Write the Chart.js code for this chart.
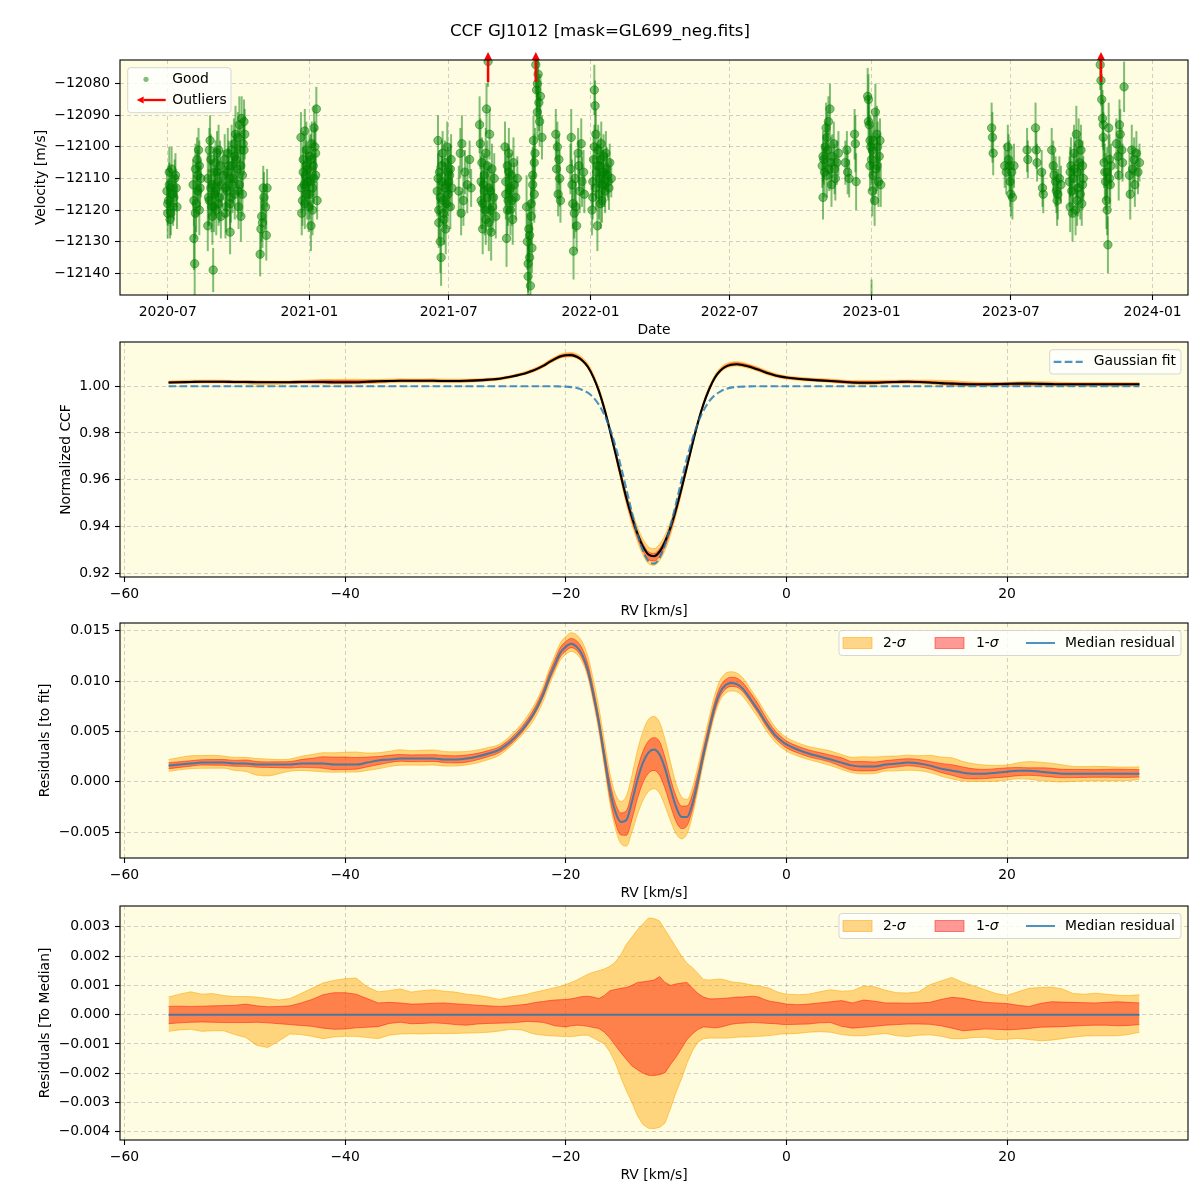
<!DOCTYPE html>
<html><head><meta charset="utf-8">
<script src="https://cdn.jsdelivr.net/npm/chart.js@4.4.1/dist/chart.umd.min.js"></script>
<style>
html,body{margin:0;padding:0;background:#fff;}
#wrap{position:relative;width:1200px;height:1200px;overflow:hidden;}
canvas{position:absolute;left:0;}
</style></head><body>
<div id="wrap">
<canvas id="c1" width="1200" height="340" style="top:0px;width:1200px;height:340px"></canvas>
<canvas id="c2" width="1200" height="280" style="top:340px;width:1200px;height:280px"></canvas>
<canvas id="c3" width="1200" height="282" style="top:620px;width:1200px;height:282px"></canvas>
<canvas id="c4" width="1200" height="298" style="top:902px;width:1200px;height:298px"></canvas>
</div>
<script>
// ================= DATA: panel 1 (RV time series) =================
const chartTitle = 'CCF GJ1012 [mask=GL699_neg.fits]';
const obsDates = [
 '2020-06-30','2020-07-01','2020-07-02','2020-07-03','2020-07-04','2020-07-05','2020-07-06','2020-07-08','2020-07-09','2020-07-10','2020-07-12','2020-07-13',
 '2020-08-03','2020-08-04','2020-08-05','2020-08-06','2020-08-07','2020-08-08','2020-08-09','2020-08-10','2020-08-11','2020-08-12','2020-08-13',
 '2020-08-22','2020-08-23','2020-08-24','2020-08-25','2020-08-26','2020-08-27','2020-08-28','2020-08-29','2020-08-30','2020-08-31','2020-09-01','2020-09-02','2020-09-03','2020-09-04','2020-09-05','2020-09-07','2020-09-08',
 '2020-09-13','2020-09-14','2020-09-15','2020-09-16','2020-09-17','2020-09-19','2020-09-20','2020-09-21','2020-09-22','2020-09-23','2020-09-25','2020-09-26','2020-09-27','2020-09-29','2020-09-30','2020-10-01','2020-10-02','2020-10-03','2020-10-04','2020-10-05','2020-10-06','2020-10-07','2020-10-08',
 '2020-10-29','2020-10-30','2020-10-31','2020-11-01','2020-11-02','2020-11-03','2020-11-05','2020-11-06','2020-11-07',
 '2020-12-21','2020-12-22','2020-12-23','2020-12-24','2020-12-25','2020-12-26','2020-12-27','2020-12-28','2020-12-29','2020-12-30','2020-12-31','2021-01-01','2021-01-02','2021-01-03','2021-01-04','2021-01-05','2021-01-06','2021-01-07','2021-01-08','2021-01-09','2021-01-10','2021-01-11',
 '2021-06-16','2021-06-17','2021-06-18','2021-06-19','2021-06-20','2021-06-21','2021-06-22','2021-06-23','2021-06-24','2021-06-25','2021-06-26','2021-06-27','2021-06-28','2021-06-29','2021-06-30','2021-07-02','2021-07-03','2021-07-04','2021-07-05',
 '2021-07-14','2021-07-16','2021-07-17','2021-07-18','2021-07-20','2021-07-22','2021-07-25','2021-07-28','2021-07-30',
 '2021-08-10','2021-08-11','2021-08-12','2021-08-13','2021-08-14','2021-08-15','2021-08-16','2021-08-17','2021-08-18','2021-08-19','2021-08-20','2021-08-21','2021-08-22','2021-08-23','2021-08-24','2021-08-25','2021-08-26','2021-08-27','2021-08-29','2021-08-31',
 '2021-09-12','2021-09-13','2021-09-14','2021-09-15','2021-09-16','2021-09-17','2021-09-18','2021-09-19','2021-09-20','2021-09-22','2021-09-24','2021-09-26','2021-09-28',
 '2021-10-10','2021-10-11','2021-10-12','2021-10-13','2021-10-14','2021-10-15','2021-10-16','2021-10-17','2021-10-18','2021-10-19','2021-10-20','2021-10-21','2021-10-22','2021-10-23','2021-10-24','2021-10-25','2021-10-26','2021-10-27','2021-10-28','2021-10-30',
 '2021-11-17','2021-11-18','2021-11-19','2021-11-20','2021-11-21','2021-11-22','2021-11-23',
 '2021-12-06','2021-12-07','2021-12-09','2021-12-10','2021-12-11','2021-12-12','2021-12-14','2021-12-16','2021-12-18','2021-12-20','2021-12-23','2021-12-24',
 '2022-01-03','2022-01-04','2022-01-05','2022-01-06','2022-01-07','2022-01-08','2022-01-09','2022-01-10','2022-01-11','2022-01-12','2022-01-13','2022-01-14','2022-01-15','2022-01-16','2022-01-17','2022-01-18','2022-01-20','2022-01-22','2022-01-24','2022-01-26','2022-01-28',
 '2022-10-29','2022-10-30','2022-10-31','2022-11-02','2022-11-03','2022-11-04','2022-11-05','2022-11-06','2022-11-07','2022-11-08','2022-11-10','2022-11-11','2022-11-13','2022-11-15','2022-11-17','2022-11-19',
 '2022-11-28','2022-11-30','2022-12-01','2022-12-03','2022-12-10','2022-12-11','2022-12-12',
 '2022-12-27','2022-12-28','2022-12-29','2022-12-30','2022-12-31','2023-01-01','2023-01-01','2023-01-02','2023-01-03','2023-01-05','2023-01-06','2023-01-07','2023-01-08','2023-01-09','2023-01-10','2023-01-11','2023-01-12','2023-01-13',
 '2023-06-06','2023-06-07','2023-06-08',
 '2023-06-23','2023-06-25','2023-06-27','2023-06-28','2023-06-29','2023-06-30','2023-07-01','2023-07-02','2023-07-03','2023-07-05',
 '2023-07-22','2023-07-23',
 '2023-08-02','2023-08-03','2023-08-04',
 '2023-08-10','2023-08-11','2023-08-12',
 '2023-08-23','2023-08-25','2023-08-26','2023-08-28','2023-08-29','2023-08-30','2023-08-31','2023-09-02','2023-09-04',
 '2023-09-15','2023-09-16','2023-09-17','2023-09-19','2023-09-20','2023-09-21','2023-09-23','2023-09-24','2023-09-25','2023-09-26','2023-09-27','2023-09-28','2023-09-29','2023-10-01','2023-10-02','2023-10-03',
 '2023-10-25','2023-10-26','2023-10-27','2023-10-28','2023-10-29','2023-10-30','2023-10-31','2023-11-01','2023-11-02','2023-11-03','2023-11-04','2023-11-05','2023-11-06','2023-11-07','2023-11-08',
 '2023-11-15','2023-11-17','2023-11-18','2023-11-19','2023-11-20','2023-11-22','2023-11-23','2023-11-25',
 '2023-12-02','2023-12-03','2023-12-05','2023-12-06','2023-12-08','2023-12-09','2023-12-11','2023-12-13','2023-12-15',
 // additional exposures in the dense seasons
 '2020-08-22','2020-08-24','2020-08-26','2020-08-28','2020-08-30','2020-09-01','2020-09-03','2020-09-05','2020-09-06','2020-09-09','2020-09-11','2020-09-14','2020-09-16','2020-09-18','2020-09-20','2020-09-22','2020-09-24','2020-09-26','2020-09-28','2020-09-30','2020-10-02','2020-10-04','2020-10-06','2020-10-08','2020-10-09',
 '2020-07-01','2020-07-03','2020-07-05','2020-07-07','2020-07-11',
 '2020-08-04','2020-08-06','2020-08-09','2020-08-11',
 '2020-12-22','2020-12-24','2020-12-26','2020-12-28','2020-12-30','2021-01-01','2021-01-03','2021-01-05','2021-01-07','2021-01-09',
 '2021-06-17','2021-06-18','2021-06-20','2021-06-22','2021-06-24','2021-06-26','2021-06-28','2021-06-30','2021-07-01','2021-07-03',
 '2021-08-12','2021-08-14','2021-08-16','2021-08-18','2021-08-20','2021-08-22','2021-08-24','2021-08-28',
 '2021-09-13','2021-09-15','2021-09-17','2021-09-19','2021-09-21','2021-09-23',
 '2021-10-12','2021-10-14','2021-10-16','2021-10-18','2021-10-20','2021-10-24',
 '2021-12-08','2021-12-13','2021-12-17','2021-12-21',
 '2022-01-04','2022-01-06','2022-01-08','2022-01-10','2022-01-12','2022-01-14','2022-01-16','2022-01-18','2022-01-19','2022-01-21','2022-01-23','2022-01-25',
 '2022-10-30','2022-11-01','2022-11-04','2022-11-09','2022-11-14',
 '2022-12-28','2022-12-30','2023-01-02','2023-01-04','2023-01-08',
 '2023-09-16','2023-09-18','2023-09-22','2023-09-25','2023-09-30','2023-10-02',
 '2023-10-29','2023-11-03','2023-11-06'
];
const obsRV = [
 -12114,-12121,-12117,-12108,-12123,-12113,-12107,-12119,-12116,-12110,-12113,-12119,
 -12112,-12129,-12137,-12121,-12118,-12104,-12109,-12101,-12106,-12113,-12110,
 -12125,-12116,-12101,-12098,-12113,-12119,-12122,-12139,-12108,-12115,-12105,-12120,-12102,-12111,-12118,-12106,-12122,
 -12104,-12113,-12119,-12108,-12102,-12110,-12127,-12116,-12106,-12112,-12099,-12103,-12096,-12107,-12114,-12119,-12093,-12101,-12122,-12091,-12109,-12099,-12092,
 -12134,-12126,-12122,-12124,-12113,-12116,-12119,-12128,-12113,
 -12097,-12121,-12117,-12104,-12112,-12095,-12109,-12101,-12115,-12107,-12119,-12103,-12111,-12125,-12099,-12113,-12106,-12094,-12100,-12109,-12088,-12117,
 -12114,-12098,-12120,-12108,-12130,-12135,-12111,-12102,-12117,-12123,-12105,-12126,-12112,-12100,-12115,-12109,-12119,-12104,-12113,
 -12114,-12102,-12121,-12099,-12117,-12108,-12112,-12104,-12113,
 -12093,-12099,-12117,-12105,-12126,-12112,-12109,-12120,-12102,-12088,-12116,-12073,-12124,-12096,-12114,-12127,-12107,-12119,-12110,-12122,
 -12100,-12111,-12129,-12106,-12117,-12102,-12114,-12120,-12109,-12123,-12112,-12116,-12110,
 -12119,-12130,-12141,-12126,-12135,-12144,-12122,-12132,-12109,-12098,-12115,-12102,-12074,-12082,-12089,-12077,-12086,-12092,-12084,-12097,
 -12096,-12107,-12100,-12115,-12104,-12110,-12117,
 -12107,-12097,-12118,-12133,-12121,-12110,-12125,-12102,-12114,-12099,-12108,-12115,
 -12120,-12111,-12104,-12082,-12087,-12096,-12108,-12125,-12101,-12115,-12106,-12118,-12099,-12112,-12109,-12103,-12114,-12107,-12111,-12105,-12110,
 -12106,-12116,-12104,-12100,-12094,-12109,-12101,-12092,-12107,-12088,-12112,-12103,-12099,-12110,-12105,-12102,
 -12105,-12101,-12108,-12110,-12096,-12099,-12111,
 -12084,-12085,-12093,-12098,-12100,-12153,-12104,-12114,-12109,-12117,-12089,-12107,-12096,-12100,-12111,-12103,-12098,-12112,
 -12094,-12097,-12102,
 -12106,-12108,-12100,-12104,-12106,-12111,-12115,-12108,-12116,-12106,
 -12101,-12104,
 -12094,-12101,-12105,
 -12108,-12113,-12115,
 -12101,-12106,-12109,-12111,-12114,-12117,-12115,-12110,-12112,
 -12111,-12119,-12106,-12121,-12110,-12102,-12120,-12096,-12108,-12113,-12099,-12105,-12115,-12118,-12112,-12110,
 -12074,-12079,-12085,-12091,-12093,-12105,-12108,-12111,-12117,-12120,-12131,-12094,-12104,-12112,-12106,
 -12099,-12103,-12109,-12093,-12096,-12101,-12105,-12081,
 -12109,-12115,-12101,-12107,-12104,-12112,-12102,-12108,-12105,
 // additional exposures
 -12110,-12117,-12104,-12112,-12119,-12114,-12108,-12101,-12116,-12112,-12109,-12121,-12114,-12106,-12118,-12101,-12110,-12115,-12104,-12097,-12112,-12106,-12115,-12101,-12096,
 -12118,-12112,-12121,-12115,-12109,
 -12117,-12107,-12114,-12120,
 -12113,-12108,-12118,-12106,-12111,-12115,-12104,-12120,-12110,-12102,
 -12110,-12124,-12116,-12106,-12121,-12113,-12118,-12108,-12111,-12107,
 -12111,-12118,-12114,-12123,-12106,-12113,-12120,-12116,
 -12115,-12120,-12108,-12113,-12117,-12105,
 -12137,-12128,-12118,-12112,-12105,-12080,
 -12112,-12119,-12106,-12111,
 -12116,-12100,-12113,-12106,-12110,-12104,-12117,-12108,-12112,-12102,-12109,-12113,
 -12103,-12108,-12097,-12105,-12107,
 -12092,-12106,-12101,-12098,-12106,
 -12108,-12114,-12107,-12117,-12101,-12106,
 -12097,-12108,-12110
];
const obsErr = [
 7,8,7,8,6,7,7,6,7,6,6,7,
 8,10,12,8,9,7,8,7,8,7,6,
 8,9,7,8,9,8,9,7,8,8,7,8,7,8,7,8,7,
 8,7,8,7,8,9,7,8,8,9,8,8,9,8,7,7,9,8,8,7,7,8,7,
 7,9,8,8,7,8,7,8,6,
 8,7,8,9,8,7,8,9,8,7,8,7,8,8,7,7,8,7,8,7,7,6,
 8,8,9,7,10,9,8,7,8,8,7,8,7,8,7,8,7,8,7,
 8,8,7,9,8,7,9,6,6,
 9,8,9,8,8,9,7,8,8,8,9,8,9,8,8,9,8,8,8,7,
 8,8,9,7,8,8,7,8,7,8,7,7,7,
 10,9,10,9,8,7,9,8,9,8,9,8,9,9,8,8,9,8,7,7,
 8,9,8,7,8,9,7,
 8,9,8,9,8,7,8,8,7,8,7,6,
 8,8,9,8,8,8,9,8,8,8,7,8,7,7,8,7,7,7,6,6,6,
 7,7,8,8,8,7,8,8,7,8,7,7,7,7,7,7,
 7,6,7,6,8,9,9,
 9,8,9,8,7,11,8,8,9,8,9,8,9,8,8,7,7,7,
 8,8,7,
 7,7,7,8,8,8,7,8,7,7,
 7,6,
 8,6,6,
 7,6,6,
 7,8,7,8,7,8,8,7,6,
 8,8,9,9,8,9,8,9,8,9,8,8,8,7,8,7,
 8,8,8,9,8,8,9,9,9,8,9,8,8,7,7,
 8,7,8,8,8,7,6,8,
 7,8,8,7,7,7,7,7,6,
 // additional exposures
 8,8,8,8,8,8,8,8,8,7,8,8,8,8,8,8,8,8,8,8,8,8,7,8,8,
 7,7,7,7,7,
 8,8,8,8,
 8,8,8,8,8,8,8,8,8,8,
 8,8,8,8,8,8,8,8,8,8,
 8,8,8,8,8,8,8,8,
 8,8,8,8,8,8,
 9,9,9,9,9,9,
 8,8,8,8,
 7,7,7,7,7,7,7,7,7,7,7,7,
 8,8,8,8,8,
 8,8,8,8,8,
 8,8,8,8,8,8,
 8,8,8
];
const outlierDates = ['2021-08-21', '2021-10-22', '2023-10-26'];
const dateTickDates = ['2020-07-01','2021-01-01','2021-07-01','2022-01-01','2022-07-01','2023-01-01','2023-07-01','2024-01-01'];
const dateTickLabels = ['2020-07','2021-01','2021-07','2022-01','2022-07','2023-01','2023-07','2024-01'];
const velTicks = [-12140, -12130, -12120, -12110, -12100, -12090, -12080];

// ================= DATA: panels 2-4 (CCF) =================
const rvGrid = [
 -56,-55,-54,-53,-52,-51,-50,-49,-48,-47,-46,-45,-44,-43,-42,-41,-40,-39,-38,-37,-36,-35,-34,-33,-32,-31,-30,-29,-28,-27,-26,-25,
 -24,-23.5,-23,-22.5,-22,-21.5,-21,-20.5,-20,-19.5,-19,-18.5,-18,-17.5,-17,-16.5,-16,-15.5,-15,-14.5,-14,-13.5,-13,-12.5,-12,-11.5,-11,-10.5,-10,-9.5,-9,-8.5,-8,-7.5,-7,-6.5,-6,-5.5,-5,-4.5,-4,-3.5,-3,-2.5,-2,-1.5,-1,-0.5,0,
 1,2,3,4,5,6,7,8,9,10,11,12,13,14,15,16,17,18,19,20,21,22,23,24,25,26,27,28,29,30,31,32
];
const gaussFit = [
 1,1,1,1,1,1,1,1, 1,1,1,1,1,1,1,1, 1,1,1,1,1,1,1,1, 1,1,1,1,1,1,1,1,
 1.0000,1.0000,1.0000,1.0000,1.0000,1.0000,1.0000,0.9999,0.9998,0.9996,
 0.9992,0.9984,0.9972,0.9952,0.9921,0.9878,0.9820,0.9745,0.9657,0.9559,
 0.9460,0.9368,0.9296,0.9251,0.9241,0.9265,0.9322,0.9403,0.9499,0.9599,
 0.9694,0.9777,0.9845,0.9897,0.9935,0.9961,0.9977,0.9988,0.9994,0.9997,
 0.9998,0.9999,1.0000,1.0000,1.0000,1.0000,1.0000,1.0000,1.0000,
 1,1,1,1,1,1,1,1, 1,1,1,1,1,1,1,1, 1,1,1,1,1,1,1,1, 1,1,1,1,1,1,1,1
];
const medianResid = [
 0.0016,0.0017,0.0018,0.0019,0.0019,0.0019,0.0018,0.0018,0.0017,0.0017,
 0.0017,0.0017,0.0018,0.0018,0.0018,0.0017,0.0017,0.0017,0.0019,0.0021,
 0.0022,0.0023,0.0023,0.0023,0.0023,0.0022,0.0022,0.0023,0.0025,0.0028,
 0.0032,0.0040,
 0.0051,0.0058,0.0066,0.0076,0.0088,0.0103,0.0116,0.0128,0.0134,0.0137,
 0.0134,0.0126,0.0111,0.0087,0.0059,0.0025,-0.0008,-0.0030,-0.0040,-0.0038,
 -0.0020,0.0002,0.0019,0.0029,0.0032,0.0027,0.0013,-0.0007,-0.0025,-0.0035,
 -0.0035,-0.0021,0.0002,0.0028,0.0052,0.0074,0.0089,0.0096,0.0098,0.0097,
 0.0093,0.0086,0.0078,0.0070,0.0061,0.0053,0.0046,0.0041,0.0037,
 0.0032,0.0028,0.0025,0.0022,0.0019,0.0016,0.0015,0.0015,0.0017,0.0018,
 0.0019,0.0018,0.0016,0.0013,0.0011,0.0009,0.0008,0.0008,0.0009,0.0010,
 0.0011,0.0011,0.0010,0.0009,0.0008,0.0008,0.0008,0.0008,0.0008,0.0008,
 0.0008,0.0008
];
// band edges, as offsets from the median residual
const sig2Upper = [
 0.00060,0.00070,0.00078,0.00070,0.00072,0.00065,0.00062,0.00062,0.00060,0.00055,
 0.00050,0.00055,0.00072,0.00090,0.00108,0.00117,0.00123,0.00125,0.00095,0.00078,
 0.00082,0.00088,0.00077,0.00082,0.00085,0.00080,0.00077,0.00070,0.00066,0.00060,
 0.00052,0.00060,
 0.00066,0.00070,0.00075,0.00079,0.00083,0.00088,0.00092,0.00097,0.00103,0.00110,
 0.00118,0.00128,0.00138,0.00145,0.00150,0.00156,0.00165,0.00180,0.00205,0.00240,
 0.00265,0.00290,0.00310,0.00330,0.00328,0.00320,0.00290,0.00260,0.00230,0.00200,
 0.00175,0.00160,0.00140,0.00120,0.00118,0.00120,0.00122,0.00118,0.00112,0.00110,
 0.00108,0.00104,0.00100,0.00098,0.00094,0.00090,0.00080,0.00074,0.00070,
 0.00068,0.00070,0.00078,0.00085,0.00080,0.00082,0.00098,0.00095,0.00083,0.00075,
 0.00074,0.00078,0.00102,0.00115,0.00127,0.00110,0.00098,0.00085,0.00072,0.00066,
 0.00078,0.00090,0.00093,0.00094,0.00088,0.00072,0.00070,0.00073,0.00070,0.00066,
 0.00065,0.00068
];
const sig1Upper = [
 0.00028,0.00029,0.00028,0.00029,0.00030,0.00031,0.00032,0.00036,0.00030,0.00027,
 0.00028,0.00030,0.00040,0.00052,0.00068,0.00075,0.00075,0.00070,0.00055,0.00040,
 0.00042,0.00040,0.00036,0.00037,0.00039,0.00040,0.00037,0.00035,0.00032,0.00030,
 0.00028,0.00030,
 0.00034,0.00036,0.00040,0.00043,0.00045,0.00048,0.00050,0.00051,0.00052,0.00054,
 0.00058,0.00062,0.00063,0.00060,0.00055,0.00065,0.00082,0.00086,0.00090,0.00093,
 0.00100,0.00110,0.00112,0.00115,0.00118,0.00130,0.00110,0.00100,0.00105,0.00108,
 0.00110,0.00090,0.00072,0.00060,0.00054,0.00054,0.00055,0.00056,0.00058,0.00060,
 0.00060,0.00062,0.00063,0.00060,0.00052,0.00046,0.00043,0.00040,0.00036,
 0.00034,0.00036,0.00040,0.00044,0.00048,0.00040,0.00050,0.00046,0.00040,0.00040,
 0.00039,0.00040,0.00042,0.00052,0.00059,0.00056,0.00048,0.00042,0.00040,0.00038,
 0.00032,0.00028,0.00038,0.00044,0.00043,0.00042,0.00041,0.00040,0.00042,0.00044,
 0.00042,0.00040
];
const sig1Lower = [
 -0.00031,-0.00028,-0.00026,-0.00025,-0.00026,-0.00027,-0.00027,-0.00027,-0.00026,-0.00028,
 -0.00031,-0.00034,-0.00037,-0.00040,-0.00046,-0.00050,-0.00049,-0.00045,-0.00043,-0.00041,
 -0.00030,-0.00026,-0.00031,-0.00030,-0.00028,-0.00030,-0.00034,-0.00036,-0.00032,-0.00030,
 -0.00029,-0.00028,
 -0.00025,-0.00023,-0.00024,-0.00025,-0.00027,-0.00032,-0.00038,-0.00040,-0.00042,-0.00038,
 -0.00036,-0.00037,-0.00040,-0.00044,-0.00047,-0.00060,-0.00080,-0.00105,-0.00130,-0.00153,
 -0.00175,-0.00188,-0.00200,-0.00207,-0.00208,-0.00205,-0.00198,-0.00170,-0.00145,-0.00115,
 -0.00085,-0.00065,-0.00050,-0.00042,-0.00043,-0.00045,-0.00043,-0.00038,-0.00033,-0.00030,
 -0.00029,-0.00028,-0.00027,-0.00028,-0.00029,-0.00030,-0.00031,-0.00033,-0.00034,
 -0.00033,-0.00032,-0.00028,-0.00027,-0.00040,-0.00046,-0.00043,-0.00040,-0.00036,-0.00034,
 -0.00032,-0.00032,-0.00033,-0.00038,-0.00046,-0.00055,-0.00052,-0.00049,-0.00050,-0.00052,
 -0.00050,-0.00047,-0.00043,-0.00042,-0.00041,-0.00039,-0.00037,-0.00036,-0.00036,-0.00038,
 -0.00037,-0.00034
];
const sig2Lower = [
 -0.00057,-0.00052,-0.00050,-0.00057,-0.00055,-0.00055,-0.00068,-0.00078,-0.00105,-0.00112,
 -0.00090,-0.00066,-0.00068,-0.00074,-0.00082,-0.00076,-0.00074,-0.00074,-0.00078,-0.00082,
 -0.00070,-0.00066,-0.00065,-0.00066,-0.00064,-0.00065,-0.00064,-0.00063,-0.00062,-0.00060,
 -0.00056,-0.00050,
 -0.00052,-0.00058,-0.00065,-0.00068,-0.00070,-0.00072,-0.00073,-0.00074,-0.00075,-0.00075,
 -0.00073,-0.00070,-0.00070,-0.00080,-0.00090,-0.00100,-0.00127,-0.00165,-0.00215,-0.00260,
 -0.00300,-0.00345,-0.00375,-0.00388,-0.00389,-0.00385,-0.00370,-0.00320,-0.00265,-0.00218,
 -0.00165,-0.00122,-0.00093,-0.00082,-0.00080,-0.00080,-0.00080,-0.00080,-0.00079,-0.00077,
 -0.00076,-0.00076,-0.00075,-0.00074,-0.00073,-0.00071,-0.00069,-0.00066,-0.00066,
 -0.00064,-0.00060,-0.00058,-0.00060,-0.00068,-0.00072,-0.00072,-0.00068,-0.00064,-0.00072,
 -0.00075,-0.00070,-0.00069,-0.00074,-0.00082,-0.00082,-0.00078,-0.00077,-0.00085,-0.00084,
 -0.00081,-0.00085,-0.00089,-0.00087,-0.00082,-0.00077,-0.00073,-0.00072,-0.00072,-0.00072,
 -0.00068,-0.00060
];
const rvTicks = [-60, -40, -20, 0, 20];
const ccfTicks = [0.92, 0.94, 0.96, 0.98, 1.00];
const residTicks = [-0.005, 0.000, 0.005, 0.010, 0.015];
const medTicks = [-0.004, -0.003, -0.002, -0.001, 0.000, 0.001, 0.002, 0.003];

// ================= STYLE =================
const FONT = "'DejaVu Sans', 'Liberation Sans', sans-serif";
const FS = 13.9;
const GRID_COLOR = 'rgba(176,176,176,0.6)';
const DASH = [4, 3];
const PLOT_BG = '#fefde2';
const C2 = 'rgba(255,165,0,0.45)', C2E = 'rgba(255,165,0,0.55)';
const C1 = 'rgba(255,0,0,0.4)', C1E = 'rgba(255,0,0,0.45)';
const BLUE = 'rgba(31,119,180,0.8)';
const GREEN = 'rgba(0,128,0,0.5)';

const toDay = s => Date.parse(s) / 864e5;
const minus = s => String(s).replace('-', '\u2212');
[obsRV, obsErr].forEach(a => { if (a.length !== obsDates.length) console.error('length mismatch', a.length, obsDates.length); });
[gaussFit, medianResid, sig2Upper, sig1Upper, sig1Lower, sig2Lower].forEach(a => { if (a.length !== rvGrid.length) console.error('rv length mismatch', a.length, rvGrid.length); });

function scaleBase(min, max, ticks, fmt, pad) {
  return {
    type: 'linear', min, max,
    afterBuildTicks: s => { s.ticks = ticks.map(v => ({ value: v })); },
    ticks: { callback: fmt, autoSkip: false, maxRotation: 0, minRotation: 0, padding: pad, color: '#000', font: { family: FONT, size: FS } },
    grid: { color: GRID_COLOR, lineWidth: 1, drawTicks: true, tickLength: 5, tickColor: '#000', tickWidth: 1.1, tickBorderDash: [], borderDash: DASH },
    border: { display: false, dash: DASH }
  };
}
function xAxis(min, max, ticks, fmt, title, h, titleOff) {
  const s = scaleBase(min, max, ticks, fmt, 4);
  s.position = 'bottom';
  s.afterFit = sc => { sc.height = h; sc.paddingLeft = 0; sc.paddingRight = 0; };
  s.title = { display: true, text: title, color: '#000', font: { family: FONT, size: FS }, padding: { top: 0, bottom: titleOff - FS * 0.6 } };
  return s;
}
function yAxis(min, max, ticks, fmt, title, titleX) {
  const s = scaleBase(min, max, ticks, fmt, 4.9);
  s.position = 'left';
  s.afterFit = sc => { sc.width = 120; sc.paddingTop = 0; sc.paddingBottom = 0; };
  s.title = { display: true, text: title, color: '#000', font: { family: FONT, size: FS }, padding: { top: titleX - FS * 0.6, bottom: 0 } };
  return s;
}
function baseOptions(padTop, x, y) {
  return {
    responsive: false, animation: false, devicePixelRatio: 1, events: [],
    layout: { padding: { top: padTop, left: 0, right: 12, bottom: 0 } },
    scales: { x, y },
    plugins: { legend: { display: false }, tooltip: { enabled: false }, title: { display: false } }
  };
}

// ================= PLUGINS =================
const bgPlugin = { id: 'plotbg', beforeDraw(chart) { const { ctx, chartArea: a } = chart; ctx.save(); ctx.fillStyle = PLOT_BG; ctx.fillRect(a.left, a.top, a.width, a.height); ctx.restore(); } };
const framePlugin = { id: 'frame', afterDraw(chart) { const { ctx, chartArea: a } = chart; ctx.save(); ctx.strokeStyle = '#000'; ctx.lineWidth = 1.1; ctx.strokeRect(a.left, a.top, a.width, a.height); ctx.restore(); } };

function legendFrame(ctx, x, y, w, h) {
  const r = 3;
  ctx.save();
  ctx.beginPath();
  ctx.moveTo(x + r, y); ctx.arcTo(x + w, y, x + w, y + h, r); ctx.arcTo(x + w, y + h, x, y + h, r);
  ctx.arcTo(x, y + h, x, y, r); ctx.arcTo(x, y, x + w, y, r); ctx.closePath();
  ctx.fillStyle = 'rgba(255,255,255,0.8)'; ctx.fill();
  ctx.strokeStyle = 'rgba(204,204,204,0.8)'; ctx.lineWidth = 1; ctx.stroke();
  ctx.restore();
}
function text(ctx, s, x, y, italic, size, align) {
  ctx.save(); ctx.fillStyle = '#000'; ctx.font = (italic ? 'italic ' : '') + (size || FS) + 'px ' + FONT;
  ctx.textBaseline = 'middle'; ctx.textAlign = align || 'left'; ctx.fillText(s, x, y);
  const w = ctx.measureText(s).width; ctx.restore(); return w;
}
function sigmaLabel(ctx, n, x, y) { const w = text(ctx, n + '-', x, y, false); text(ctx, '\u03c3', x + w, y, true); }
function drawArrow(ctx, x0, y0, x1, y1, shaftW, headL, headW, color) {
  const dx = x1 - x0, dy = y1 - y0, len = Math.hypot(dx, dy), ux = dx / len, uy = dy / len;
  const bx = x1 - ux * headL, by = y1 - uy * headL;
  ctx.save(); ctx.strokeStyle = color; ctx.fillStyle = color; ctx.lineWidth = shaftW;
  ctx.beginPath(); ctx.moveTo(x0, y0); ctx.lineTo(bx, by); ctx.stroke();
  ctx.beginPath(); ctx.moveTo(x1, y1); ctx.lineTo(bx - uy * headW / 2, by + ux * headW / 2); ctx.lineTo(bx + uy * headW / 2, by - ux * headW / 2); ctx.closePath(); ctx.fill();
  ctx.restore();
}
function bandLegend(ctx, a) {
  const w = 342, h = 25, bx = a.right - 7 - w, by = a.top + 7.5, cy = by + h / 2;
  legendFrame(ctx, bx, by, w, h);
  ctx.save();
  ctx.fillStyle = C2; ctx.strokeStyle = C2E; ctx.lineWidth = 1;
  ctx.fillRect(bx + 4, cy - 5.5, 29, 11); ctx.strokeRect(bx + 4, cy - 5.5, 29, 11);
  ctx.fillStyle = C1; ctx.strokeStyle = C1E;
  ctx.fillRect(bx + 96, cy - 5.5, 29, 11); ctx.strokeRect(bx + 96, cy - 5.5, 29, 11);
  ctx.strokeStyle = BLUE; ctx.lineWidth = 2; ctx.beginPath(); ctx.moveTo(bx + 187, cy); ctx.lineTo(bx + 216, cy); ctx.stroke();
  ctx.restore();
  sigmaLabel(ctx, '2', bx + 44, cy);
  sigmaLabel(ctx, '1', bx + 137, cy);
  text(ctx, 'Median residual', bx + 226, cy);
}

// ================= PANEL 1 =================
const obsX = obsDates.map(toDay);
const errPlugin = {
  id: 'errbars',
  beforeDatasetsDraw(chart) {
    const { ctx, chartArea: a, scales: { x, y } } = chart;
    ctx.save(); ctx.beginPath(); ctx.rect(a.left, a.top, a.width, a.height); ctx.clip();
    ctx.strokeStyle = GREEN; ctx.lineWidth = 2;
    obsRV.forEach((v, i) => {
      const px = x.getPixelForValue(obsX[i]);
      ctx.beginPath(); ctx.moveTo(px, y.getPixelForValue(v - obsErr[i])); ctx.lineTo(px, y.getPixelForValue(v + obsErr[i])); ctx.stroke();
    });
    ctx.restore();
  }
};
const outlierPlugin = {
  id: 'outliers',
  afterDraw(chart) {
    const { ctx, chartArea: a, scales: { x } } = chart;
    text(ctx, chartTitle, chart.width / 2, 32, false, 16.67, 'center');
    outlierDates.forEach(d => { const px = x.getPixelForValue(toDay(d)); drawArrow(ctx, px, a.top + 22, px, a.top - 8, 2.5, 8, 8, '#ff0000'); });
    const bx = a.left + 7.7, by = a.top + 7.7;
    legendFrame(ctx, bx, by, 103.3, 45);
    ctx.save(); ctx.fillStyle = GREEN; ctx.beginPath(); ctx.arc(bx + 18.3, by + 11.6, 2.6, 0, Math.PI * 2); ctx.fill(); ctx.restore();
    text(ctx, 'Good', bx + 44.6, by + 11.6);
    drawArrow(ctx, bx + 38, by + 32.3, bx + 9, by + 32.3, 2.3, 7, 7, '#ff0000');
    text(ctx, 'Outliers', bx + 44.6, by + 32.3);
  }
};
const opt1 = baseOptions(60,
  xAxis(toDay('2020-04-30'), toDay('2024-02-16'), dateTickDates.map(toDay), (v, i) => dateTickLabels[i], 'Date', 45, 10),
  yAxis(-12146.9, -12072.5, velTicks, v => minus(v), 'Velocity [m/s]', 41));
new Chart(document.getElementById('c1'), {
  type: 'scatter',
  data: { datasets: [{ label: 'Good', data: obsX.map((x, i) => ({ x, y: obsRV[i] })), pointRadius: 4.2, pointBackgroundColor: GREEN, pointBorderColor: GREEN, pointBorderWidth: 1, showLine: false, clip: 0 }] },
  options: opt1,
  plugins: [bgPlugin, errPlugin, outlierPlugin, framePlugin]
});

// ================= PANELS 2-4 =================
const pts = ys => rvGrid.map((x, i) => ({ x, y: ys[i] }));
const add = (a, b) => a.map((v, i) => v + b[i]);
function bandSets(base, smooth) {
  const common = { pointRadius: 0, borderWidth: 1, tension: 0 };
  if (smooth) common.cubicInterpolationMode = 'monotone';
  return [
    Object.assign({ label: '2-sigma low', data: pts(add(base, sig2Lower)), borderColor: C2E, fill: false, order: 10 }, common),
    Object.assign({ label: '2-σ', data: pts(add(base, sig2Upper)), borderColor: C2E, backgroundColor: C2, fill: '-1', order: 10 }, common),
    Object.assign({ label: '1-sigma low', data: pts(add(base, sig1Lower)), borderColor: C1E, fill: false, order: 9 }, common),
    Object.assign({ label: '1-σ', data: pts(add(base, sig1Upper)), borderColor: C1E, backgroundColor: C1, fill: '-1', order: 9 }, common)
  ];
}
const rvX = (title, h, off) => xAxis(-60.4, 36.4, rvTicks, v => minus(v), title, h, off);

// Panel 2: normalized CCF
const ccfMean = add(gaussFit, medianResid);
const ds2 = bandSets(ccfMean, true).concat([
  { label: 'Mean CCF', data: pts(ccfMean), borderColor: '#000', borderWidth: 2.1, pointRadius: 0, fill: false, cubicInterpolationMode: 'monotone', order: 2 },
  { label: 'Gaussian fit', data: pts(gaussFit), borderColor: BLUE, borderWidth: 2.1, borderDash: [7.7, 3.3], pointRadius: 0, fill: false, cubicInterpolationMode: 'monotone', order: 1 }
]);
new Chart(document.getElementById('c2'), {
  type: 'line', data: { datasets: ds2 },
  options: baseOptions(2, rvX('RV [km/s]', 43, 9), yAxis(0.9184, 1.0189, ccfTicks, v => v.toFixed(2), 'Normalized CCF', 66)),
  plugins: [bgPlugin, framePlugin, { id: 'leg2', afterDraw(chart) {
    const { ctx, chartArea: a } = chart; const w = 131.3, h = 24.3, bx = a.right - 7 - w, by = a.top + 7.7, cy = by + h / 2;
    legendFrame(ctx, bx, by, w, h);
    ctx.save(); ctx.strokeStyle = BLUE; ctx.lineWidth = 2.1; ctx.setLineDash([7.7, 3.3]); ctx.beginPath(); ctx.moveTo(bx + 4, cy); ctx.lineTo(bx + 33, cy); ctx.stroke(); ctx.restore();
    text(ctx, 'Gaussian fit', bx + 44, cy);
  } }]
});

// Panel 3: residuals to fit
const ds3 = bandSets(medianResid, true).concat([
  { label: 'Median residual', data: pts(medianResid), borderColor: BLUE, borderWidth: 2, pointRadius: 0, fill: false, cubicInterpolationMode: 'monotone', order: 1 }
]);
new Chart(document.getElementById('c3'), {
  type: 'line', data: { datasets: ds3 },
  options: baseOptions(3, rvX('RV [km/s]', 44, 9), yAxis(-0.00758, 0.01577, residTicks, v => minus(v.toFixed(3)), 'Residuals [to fit]', 45)),
  plugins: [bgPlugin, framePlugin, { id: 'leg3', afterDraw(chart) { bandLegend(chart.ctx, chart.chartArea); } }]
});

// Panel 4: residuals to median
const zeroLine = medianResid.map(v => v - v);
const ds4 = bandSets(zeroLine, false).concat([
  { label: 'Median residual', data: pts(zeroLine), borderColor: BLUE, borderWidth: 2, pointRadius: 0, fill: false, order: 1 }
]);
new Chart(document.getElementById('c4'), {
  type: 'line', data: { datasets: ds4 },
  options: baseOptions(4, rvX('RV [km/s]', 60, 25), yAxis(-0.00428, 0.00371, medTicks, v => minus(v.toFixed(3)), 'Residuals [To Median]', 45)),
  plugins: [bgPlugin, framePlugin, { id: 'leg4', afterDraw(chart) { bandLegend(chart.ctx, chart.chartArea); } }]
});
</script>
</body></html>
